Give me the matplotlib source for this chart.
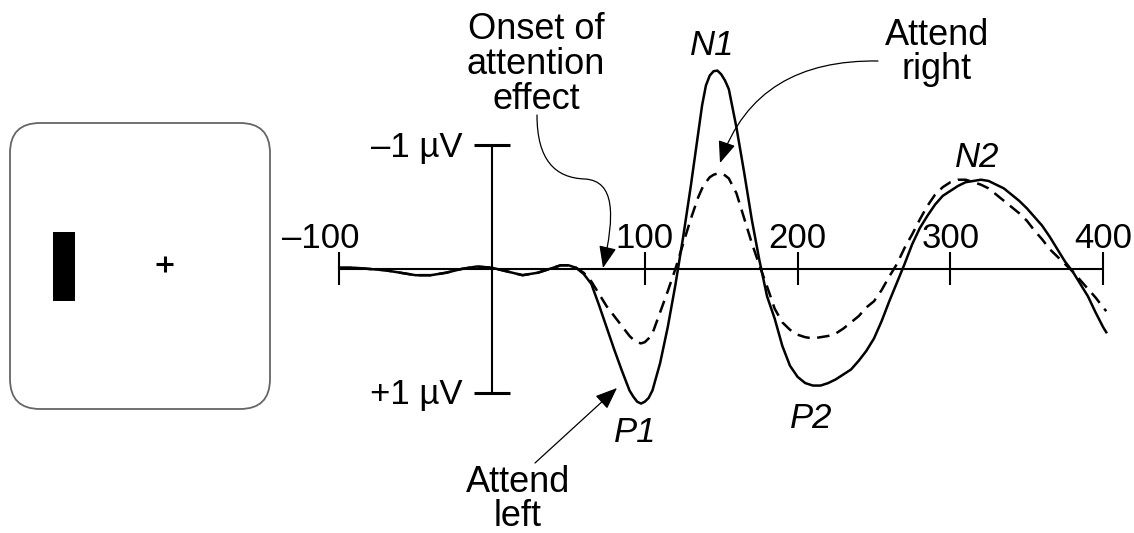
import matplotlib
matplotlib.use("Agg")
import matplotlib.pyplot as plt
from matplotlib.patches import FancyBboxPatch, Rectangle, FancyArrowPatch
from matplotlib.path import Path

plt.rcParams['font.family'] = ['Liberation Sans', 'DejaVu Sans']

# ---------------- data ----------------
time_ms = [-100, -90, -80, -70, -60, -50, -40, -30, -20, -10, 0, 10, 20, 30, 40, 45,
           50, 55, 60, 65, 70, 75, 80, 85, 90, 92.5, 95, 97.5, 100, 102.5, 105, 110,
           115, 120, 125, 130, 135, 137.5, 140, 142.5, 145, 147.5, 150, 152.5, 155,
           160, 165, 170, 175, 180, 185, 190, 195,
           200, 205, 210, 215, 220, 225, 230, 235, 240, 245, 250, 255, 260, 265,
           270, 275, 280, 285, 290, 295, 300, 305, 310, 315, 320, 325, 330, 335,
           340, 345, 350, 355, 360, 365, 370, 375, 380, 385, 390, 395, 400, 402]

attend_left_uv = [-0.01, -0.01, 0.00, 0.01, 0.03, 0.05, 0.05, 0.03, 0.00, -0.02, -0.01, 0.02,
                  0.05, 0.03, -0.01, -0.03, -0.03, -0.01, 0.04, 0.12, 0.29, 0.47, 0.65, 0.82,
                  0.98, 1.03, 1.07, 1.085, 1.07, 1.04, 0.98, 0.76, 0.47, 0.13, -0.25, -0.66,
                  -1.10, -1.32, -1.48, -1.56, -1.595, -1.60, -1.57, -1.52, -1.45,
                  -1.14, -0.78, -0.40, -0.07, 0.22, 0.40, 0.62, 0.78, 0.87, 0.92,
                  0.94, 0.94, 0.92, 0.89, 0.85, 0.81, 0.74, 0.66, 0.56, 0.42, 0.26, 0.11,
                  -0.04, -0.20, -0.33, -0.43, -0.52, -0.59, -0.63, -0.67, -0.70, -0.71, -0.72,
                  -0.71, -0.68, -0.65, -0.60, -0.55, -0.49, -0.42, -0.35, -0.26, -0.16, -0.06,
                  0.02, 0.12, 0.22, 0.35, 0.47, 0.51]

attend_right_uv = [-0.01, -0.01, 0.00, 0.01, 0.03, 0.05, 0.05, 0.03, 0.00, -0.02, -0.01, 0.02,
                   0.05, 0.03, -0.01, -0.03, -0.03, -0.01, 0.03, 0.10, 0.20, 0.30, 0.38, 0.46,
                   0.54, 0.57, 0.59, 0.60, 0.59, 0.56, 0.52, 0.35, 0.18, 0.00, -0.20, -0.40,
                   -0.58, -0.65, -0.70, -0.74, -0.76, -0.77, -0.77, -0.755, -0.73,
                   -0.61, -0.41, -0.21, -0.03, 0.14, 0.32, 0.43, 0.49, 0.53, 0.55,
                   0.56, 0.55, 0.54, 0.52, 0.48, 0.43, 0.38, 0.31, 0.26, 0.17, 0.06, -0.04,
                   -0.17, -0.28, -0.40, -0.51, -0.60, -0.66, -0.70, -0.72, -0.72, -0.70, -0.68,
                   -0.65, -0.60, -0.55, -0.50, -0.45, -0.39, -0.31, -0.24, -0.16, -0.10, -0.04,
                   0.02, 0.09, 0.16, 0.23, 0.31, 0.34]

x_ticks = [-100, 100, 200, 300, 400]
x_tick_labels = ['\u2013100', '100', '200', '300', '400']
y_scale_labels = ['\u20131 \u00b5V', '+1 \u00b5V']
y_scale_values = [-1, 1]

# ---------------- figure ----------------
W, H, DPI = 1134, 533, 100
fig = plt.figure(figsize=(W / DPI, H / DPI), dpi=DPI)
fig.patch.set_facecolor('white')

# pixel overlay for decorations
axp = fig.add_axes([0, 0, 1, 1])
axp.set_xlim(0, W)
axp.set_ylim(H, 0)
axp.axis('off')

# data axes: ms horizontally, microvolts vertically (negative up)
PX_PER_MS = 1.528
X0_PX = 492.0
PX_PER_UV = 124.0
Y0_PX = 269.0
ax = fig.add_axes([0, 0, 1, 1])
ax.set_xlim(-X0_PX / PX_PER_MS, (W - X0_PX) / PX_PER_MS)
ax.set_ylim((H - Y0_PX) / PX_PER_UV, -Y0_PX / PX_PER_UV)
ax.axis('off')
ax.patch.set_alpha(0)

# stimulus panel
box = FancyBboxPatch((10, 123), 260, 286, boxstyle="round,pad=0,rounding_size=30",
                     fc='white', ec='#666666', lw=1.3)
axp.add_patch(box)
axp.add_patch(Rectangle((53, 232), 22, 69, fc='black', ec='none'))
axp.plot([156, 173], [263.5, 263.5], color='black', lw=2.2, solid_capstyle='butt')
axp.plot([164.5, 164.5], [256, 272], color='black', lw=2.2, solid_capstyle='butt')

# axes lines
axis_kw = dict(color='black', lw=1.5, solid_capstyle='butt')
ax.plot([x_ticks[0], x_ticks[-1]], [0, 0], **axis_kw)
for t in x_ticks:
    ax.plot([t, t], [-17 / PX_PER_UV, 16 / PX_PER_UV], **axis_kw)
ax.plot([0, 0], [y_scale_values[0], y_scale_values[1]], **axis_kw)
cap = 18 / PX_PER_MS
for v in y_scale_values:
    ax.plot([-cap, cap], [v, v], color='black', lw=2.2, solid_capstyle='butt')

# tick labels
fs_num = 25
for t, lab in zip(x_ticks, x_tick_labels):
    dx = -12 if t == -100 else 0
    ax.text(t + dx, -21 / PX_PER_UV, lab, ha='center', va='baseline', fontsize=fs_num)
ax.text(-19, -0.903, y_scale_labels[0], ha='right', va='baseline', fontsize=fs_num)
ax.text(-19, 1.085, y_scale_labels[1], ha='right', va='baseline', fontsize=fs_num)

# waveforms
ax.plot(time_ms, attend_right_uv, color='black', lw=1.8, linestyle=(0, (5, 3)),
        solid_joinstyle='round')
ax.plot(time_ms, attend_left_uv, color='black', lw=1.8, solid_joinstyle='round')

# component labels
for txt, x, y in [('N1', 712, 55), ('P1', 635, 442), ('P2', 811, 428), ('N2', 977, 167)]:
    axp.text(x, y, txt, ha='center', va='baseline', fontsize=25, style='italic')

# annotation texts (multi-line, anchored at the top of the first line)
fs_lab = 26
for txt, x, y, ls in [('Onset of\nattention\neffect', 536, 12, 1.0),
                      ('Attend\nright', 937, 18, 0.96),
                      ('Attend\nleft', 518, 465, 0.95)]:
    axp.text(x, y, txt, ha='center', va='top', ma='center', fontsize=fs_lab,
             linespacing=ls)

# arrows
astyle = "-|>,head_length=0.75,head_width=0.3"
p1 = Path([(537, 115), (537, 160), (555, 178), (585, 179),
           (615, 181), (615, 215), (603, 268)],
          [Path.MOVETO, Path.CURVE4, Path.CURVE4, Path.CURVE4,
           Path.CURVE4, Path.CURVE4, Path.CURVE4])
axp.add_patch(FancyArrowPatch(path=p1.transformed(axp.transData), transform=None,
                              arrowstyle=astyle, mutation_scale=18, color='black', lw=0.9))
p2 = Path([(878, 61), (800, 60), (745, 90), (720, 163)],
          [Path.MOVETO, Path.CURVE4, Path.CURVE4, Path.CURVE4])
axp.add_patch(FancyArrowPatch(path=p2.transformed(axp.transData), transform=None,
                              arrowstyle=astyle, mutation_scale=18, color='black', lw=0.9))
axp.add_patch(FancyArrowPatch((535, 463), (617, 388), arrowstyle=astyle, mutation_scale=18,
                              color='black', lw=0.9, shrinkA=0, shrinkB=0))

fig.savefig('out.png', dpi=DPI)
